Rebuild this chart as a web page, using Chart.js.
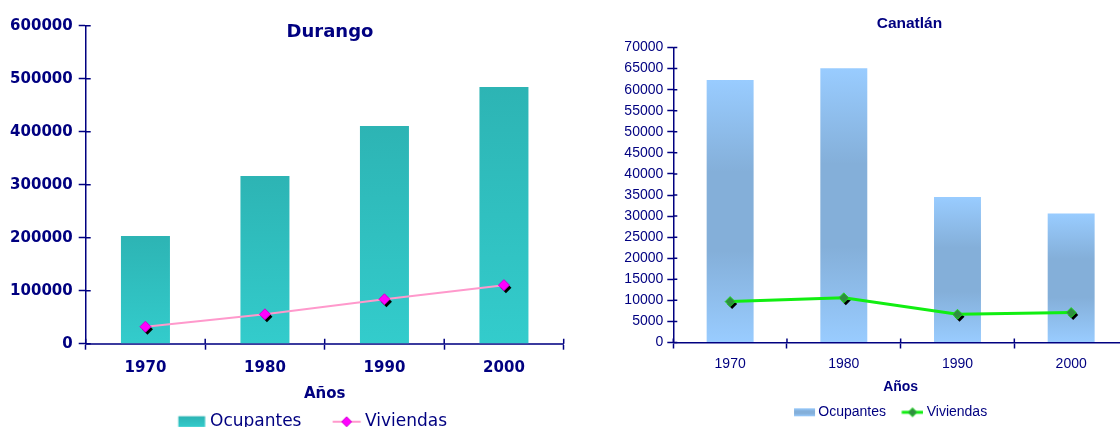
<!DOCTYPE html>
<html>
<head>
<meta charset="utf-8">
<script src="https://cdn.jsdelivr.net/npm/chart.js@4.4.0/dist/chart.umd.min.js"></script>
<style>
  html, body { margin: 0; padding: 0; background: #fff; overflow: hidden; width: 1120px; height: 427px; }
  .caja { position: absolute; top: 0; }
  #izq { left: 0; width: 580px; height: 441px; }
  #der { left: 580px; width: 560px; height: 430px; }
</style>
</head>
<body>
<div class="caja" id="izq"><canvas id="graficaDurango"></canvas></div>
<div class="caja" id="der"><canvas id="graficaCanatlan"></canvas></div>
<script>
const anios = ['1970', '1980', '1990', '2000'];
const series = ['Ocupantes', 'Viviendas'];

const durangoOcupantes = [203200, 316400, 410800, 484300];
const durangoViviendas = [32000, 55500, 83800, 110500];
const durangoTicksY = [0, 100000, 200000, 300000, 400000, 500000, 600000];

const canatlanOcupantes = [62300, 65100, 34500, 30600];
const canatlanViviendas = [9700, 10600, 6700, 7100];
const canatlanTicksY = [0, 5000, 10000, 15000, 20000, 25000, 30000, 35000,
  40000, 45000, 50000, 55000, 60000, 65000, 70000];

const azul = '#000080';
const tealStops = [[0, '#2db4b4'], [1, '#33cccc']];
const celesteStops = [[0, '#99ccff'], [0.35, '#84afd9'], [0.65, '#84afd9'], [1, '#99ccff']];

// gradiente vertical por barra, de la punta a la base
function degradado(paradas) {
  return function (context) {
    const chart = context.chart;
    const y = chart.scales.y;
    const i = context.dataIndex;
    if (!chart.chartArea || !y || i === undefined) return paradas[0][1];
    const top = y.getPixelForValue(context.dataset.data[i]);
    const base = y.getPixelForValue(0);
    const g = chart.ctx.createLinearGradient(0, top, 0, base);
    paradas.forEach(p => g.addColorStop(p[0], p[1]));
    return g;
  };
}

function rombo(g, x, y, r) {
  g.beginPath();
  g.moveTo(x - r, y);
  g.lineTo(x, y - r);
  g.lineTo(x + r, y);
  g.lineTo(x, y + r);
  g.closePath();
}

// imagen para la leyenda: el simbolo termina "hueco" px antes del texto
function simbolo(bw, fs, hueco, w, h, dibujar) {
  const R = bw / 2 + fs / 2 - hueco;
  const L = R - w;
  const half = Math.ceil(Math.max(Math.abs(R), Math.abs(L)));
  const c = document.createElement('canvas');
  c.width = half * 2;
  c.height = Math.ceil(h / 2) * 2 + 6;
  dibujar(c.getContext('2d'), half + L, c.height / 2, w, h);
  return c;
}

function cajaLeyenda(paradas) {
  return function (g, x, cy, w, h) {
    const gr = g.createLinearGradient(0, cy - h / 2, 0, cy + h / 2);
    paradas.forEach(p => gr.addColorStop(p[0], p[1]));
    g.fillStyle = gr;
    g.fillRect(x, cy - h / 2, w, h);
  };
}

function lineaLeyenda(color, grosor, relleno, borde, r) {
  return function (g, x, cy, w) {
    g.strokeStyle = color;
    g.lineWidth = grosor;
    g.beginPath();
    g.moveTo(x, cy);
    g.lineTo(x + w, cy);
    g.stroke();
    rombo(g, x + w / 2, cy, r);
    g.fillStyle = relleno;
    g.fill();
    g.strokeStyle = borde;
    g.lineWidth = 1;
    g.stroke();
  };
}

const sombraPuntos = {
  id: 'sombraPuntos',
  beforeDatasetDraw(chart, args) {
    const ds = chart.data.datasets[args.index];
    if (ds.type !== 'line') return;
    const ctx = chart.ctx;
    ctx.save();
    ctx.fillStyle = '#000';
    args.meta.data.forEach(p => {
      rombo(ctx, p.x + 2, p.y + 2.5, ds.pointRadius);
      ctx.fill();
    });
    ctx.restore();
  }
};

// parte interior de las marcas de los ejes (en el original cruzan el eje)
const marcasCruzadas = {
  id: 'marcasCruzadas',
  afterDatasetsDraw(chart, args, opts) {
    const { ctx, chartArea, scales } = chart;
    const n = chart.data.labels.length;
    ctx.save();
    ctx.strokeStyle = azul;
    ctx.lineWidth = 1.5;
    ctx.beginPath();
    scales.y.ticks.forEach(t => {
      const py = scales.y.getPixelForValue(t.value);
      ctx.moveTo(chartArea.left, py);
      ctx.lineTo(chartArea.left + opts.largo, py);
    });
    for (let i = 0; i <= n; i++) {
      const px = chartArea.left + (chartArea.right - chartArea.left) * i / n;
      ctx.moveTo(px, chartArea.bottom);
      ctx.lineTo(px, chartArea.bottom - opts.largo);
    }
    ctx.stroke();
    ctx.restore();
  }
};

const tituloPlot = {
  id: 'tituloPlot',
  afterDraw(chart, args, opts) {
    const { ctx, chartArea } = chart;
    ctx.save();
    ctx.font = opts.font;
    ctx.fillStyle = opts.color;
    ctx.textAlign = 'center';
    ctx.textBaseline = 'middle';
    ctx.fillText(opts.text, (chartArea.left + chartArea.right) / 2 + opts.dx, opts.y);
    ctx.restore();
  }
};

// la leyenda empieza donde empieza en el original (no centrada en el lienzo)
const inicioLeyenda = {
  id: 'inicioLeyenda',
  afterLayout(chart, args, opts) {
    const lg = chart.legend;
    lg.left = opts.x - chart.options.plugins.legend.labels.padding;
    lg.right = chart.width;
  }
};

function leyenda(simbolos) {
  return function (chart) {
    const items = Chart.defaults.plugins.legend.labels.generateLabels(chart);
    items.forEach(it => { it.pointStyle = simbolos[it.datasetIndex]; });
    return items;
  };
}

// ---- Durango ----
const fDur = 'DejaVu Sans';
const bwDur = 43.7;
const simbolosDur = [
  simbolo(bwDur, 17, 5, 26.7, 11, cajaLeyenda(tealStops)),
  simbolo(bwDur, 17, 4.3, 28, 10, lineaLeyenda('#ff99cc', 2, '#ff00ff', '#d000d0', 5))
];

new Chart(document.getElementById('graficaDurango'), {
  type: 'bar',
  data: {
    labels: anios,
    datasets: [
      {
        label: series[0],
        data: durangoOcupantes,
        backgroundColor: degradado(tealStops),
        categoryPercentage: 1,
        barPercentage: 0.41,
        order: 1
      },
      {
        type: 'line',
        label: series[1],
        data: durangoViviendas,
        borderColor: '#ff99cc',
        borderWidth: 2,
        pointStyle: 'rectRot',
        pointRadius: 5.5,
        pointBackgroundColor: '#ff00ff',
        pointBorderColor: '#d000d0',
        pointBorderWidth: 1,
        order: 0
      }
    ]
  },
  options: {
    responsive: true,
    maintainAspectRatio: false,
    animation: false,
    layout: { padding: { left: 9.7, right: 16.3, top: 25.7, bottom: 0.8 } },
    scales: {
      x: {
        grid: { drawOnChartArea: false, tickLength: 6, tickColor: azul, tickWidth: 1.5 },
        border: { color: '#3b3b9e', width: 2 },
        ticks: { color: azul, padding: 11.1, font: { family: fDur, size: 15, weight: 'bold', lineHeight: 1 } },
        title: {
          display: true, text: 'Años', color: azul,
          font: { family: fDur, size: 15, weight: 'bold', lineHeight: 1 },
          padding: { top: 0, bottom: 0 }
        }
      },
      y: {
        min: 0,
        max: 600000,
        afterBuildTicks: s => { s.ticks = durangoTicksY.map(v => ({ value: v })); },
        afterFit: s => { s.width = 76; },
        grid: { drawOnChartArea: false, tickLength: 7, tickColor: azul, tickWidth: 1.5 },
        border: { color: azul, width: 1.5 },
        ticks: { color: azul, padding: 6, callback: v => String(v), font: { family: fDur, size: 15, weight: 'bold' } }
      }
    },
    plugins: {
      legend: {
        position: 'bottom',
        align: 'start',
        labels: {
          usePointStyle: true,
          pointStyleWidth: bwDur,
          padding: 11.3,
          color: azul,
          font: { family: fDur, size: 17 },
          sort: (a, b) => a.datasetIndex - b.datasetIndex,
          generateLabels: leyenda(simbolosDur)
        }
      },
      tooltip: { enabled: false },
      inicioLeyenda: { x: 157.8 },
      marcasCruzadas: { largo: 5 },
      tituloPlot: { text: 'Durango', font: 'bold 18px "DejaVu Sans"', color: azul, dx: 5.3, y: 32.3 }
    }
  },
  plugins: [sombraPuntos, marcasCruzadas, tituloPlot, inicioLeyenda]
});

// ---- Canatlán ----
const fCan = 'Liberation Sans, Arial';
const bwCan = 22.7;
const simbolosCan = [
  simbolo(bwCan, 14, 3.3, 21, 8, cajaLeyenda(celesteStops)),
  simbolo(bwCan, 14, 3.4, 21.6, 10, lineaLeyenda('#11ee11', 3, '#2f8f3f', '#22dd22', 4.5))
];

new Chart(document.getElementById('graficaCanatlan'), {
  type: 'bar',
  data: {
    labels: anios,
    datasets: [
      {
        label: series[0],
        data: canatlanOcupantes,
        backgroundColor: degradado(celesteStops),
        categoryPercentage: 1,
        barPercentage: 0.413,
        order: 1
      },
      {
        type: 'line',
        label: series[1],
        data: canatlanViviendas,
        borderColor: '#11ee11',
        borderWidth: 3,
        pointStyle: 'rectRot',
        pointRadius: 5,
        pointBackgroundColor: '#2f8f3f',
        pointBorderColor: '#22dd22',
        pointBorderWidth: 1,
        order: 0
      }
    ]
  },
  options: {
    responsive: true,
    maintainAspectRatio: false,
    animation: false,
    layout: { padding: { left: 41.3, right: 12, top: 47.5, bottom: 0.7 } },
    scales: {
      x: {
        grid: { drawOnChartArea: false, tickLength: 6, tickColor: azul, tickWidth: 1.5 },
        border: { color: azul, width: 1.5 },
        ticks: { color: azul, padding: 8.5, font: { family: fCan, size: 14, lineHeight: 1 } },
        title: {
          display: true, text: 'Años', color: azul,
          font: { family: fCan, size: 14, weight: 'bold', lineHeight: 1 },
          padding: { top: 0.8, bottom: 0 }
        }
      },
      y: {
        min: 0,
        max: 70000,
        afterBuildTicks: s => { s.ticks = canatlanTicksY.map(v => ({ value: v })); },
        afterFit: s => { s.width = 52; },
        grid: { drawOnChartArea: false, tickLength: 6, tickColor: azul, tickWidth: 1.5 },
        border: { color: azul, width: 1.5 },
        ticks: { color: azul, padding: 4, callback: v => String(v), font: { family: fCan, size: 14 } }
      }
    },
    plugins: {
      legend: {
        position: 'bottom',
        align: 'start',
        labels: {
          usePointStyle: true,
          pointStyleWidth: bwCan,
          padding: 11,
          color: azul,
          font: { family: fCan, size: 14 },
          sort: (a, b) => a.datasetIndex - b.datasetIndex,
          generateLabels: leyenda(simbolosCan)
        }
      },
      tooltip: { enabled: false },
      inicioLeyenda: { x: 208.6 },
      marcasCruzadas: { largo: 4 },
      tituloPlot: { text: 'Canatlán', font: 'bold 15.5px "Liberation Sans", Arial', color: azul, dx: 8.8, y: 24 }
    }
  },
  plugins: [sombraPuntos, marcasCruzadas, tituloPlot, inicioLeyenda]
});
</script>
</body>
</html>
